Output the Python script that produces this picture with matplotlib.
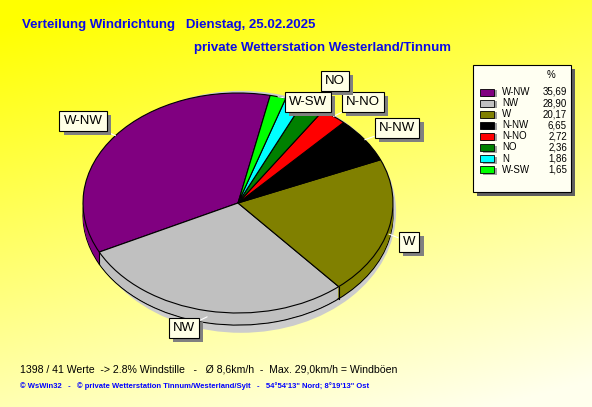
import numpy as np
import matplotlib
matplotlib.use("Agg")
import matplotlib.pyplot as plt
from matplotlib.patches import Rectangle, Ellipse
import matplotlib.patheffects as pe

plt.rcParams["font.family"] = ["Liberation Sans", "DejaVu Sans"]

# -------------------------------
# Daten
# -------------------------------
richtungen = ["W-NW", "NW", "W", "N-NW", "N-NO", "NO", "N", "W-SW"]
prozent = [35.69, 28.90, 20.17, 6.65, 2.72, 2.36, 1.86, 1.65]
farben = ["#800080", "#C0C0C0", "#808000", "#000000",
          "#FF0000", "#008000", "#00FFFF", "#00FF00"]
# Label-Boxen (Pixel im Bild), None = ohne Label
label_pos = [(83, 121), (184, 328), (409, 242), (397, 128),
             (363, 102), (335, 81), None, (308, 102)]

titel1 = "Verteilung Windrichtung   Dienstag, 25.02.2025"
titel2 = "private Wetterstation Westerland/Tinnum"
info = "1398 / 41 Werte  -> 2.8% Windstille   -   Ø 8,6km/h  -  Max. 29,0km/h = Windböen"
fuss = "© WsWin32   -   © private Wetterstation Tinnum/Westerland/Sylt   -   54°54'13\" Nord; 8°19'13\" Ost"

W, H = 592, 407
start = 78
tiefe = 0.11

fig = plt.figure(figsize=(W / 100, H / 100), dpi=100)

# -------------------------------
# Hintergrund (Verlauf gelb -> hell)
# -------------------------------
ax_bg = fig.add_axes([0, 0, 1, 1], zorder=0)
yy, xx = np.mgrid[0:1:200j, 0:1:300j]
t = np.clip(0.8 * yy + 0.3 * xx - 0.05, 0, 1)
img = np.dstack([np.ones_like(t), np.ones_like(t), 0.93 * t])
ax_bg.imshow(img, extent=[0, W, H, 0], aspect="auto")
ax_bg.set_xlim(0, W)
ax_bg.set_ylim(H, 0)
ax_bg.axis("off")

# -------------------------------
# Torte (3D)
# -------------------------------
cx, cy, rx, ry = 238, 203, 155, 110
x0, x1, y0, y1 = cx - 160, cx + 160, 80, 345
ax = fig.add_axes([x0 / W, (H - y1) / H, (x1 - x0) / W, (y1 - y0) / H], zorder=1)

ax.add_patch(Ellipse((0.02, -0.08), 2.0, 2.2, color="#CCCCCC", lw=0))

ax.pie(prozent, colors=farben, startangle=start, radius=1, center=(0, -tiefe),
       wedgeprops=dict(edgecolor="black", linewidth=0.8))
for k in range(1, 12):
    ax.pie(prozent, colors=farben, startangle=start, radius=1,
           center=(0, -tiefe + tiefe * k / 12), wedgeprops=dict(linewidth=0))
wedges, _ = ax.pie(prozent, colors=farben, startangle=start, radius=1, center=(0, 0),
                   wedgeprops=dict(edgecolor="black", linewidth=0.8))

# Kanten an der Seite
grenzen = start + np.cumsum([0] + prozent[:-1]) * 3.6
for g in grenzen:
    a = np.deg2rad(g)
    if np.sin(a) < 0:
        ax.plot([np.cos(a)] * 2, [np.sin(a), np.sin(a) - tiefe], color="black", lw=0.8)

ax.set_aspect("auto")
ax.set_xlim(-(cx - x0) / rx, (x1 - cx) / rx)
ax.set_ylim(-(y1 - cy) / ry, (cy - y0) / ry)
ax.axis("off")

# -------------------------------
# Overlay (Pixel-Koordinaten)
# -------------------------------
ax_o = fig.add_axes([0, 0, 1, 1], zorder=2)
ax_o.set_xlim(0, W)
ax_o.set_ylim(H, 0)
ax_o.axis("off")
ax_o.patch.set_alpha(0)

schatten = [pe.withSimplePatchShadow(offset=(3, -3), shadow_rgbFace="#808080", alpha=1)]
for w, name, pos in zip(wedges, richtungen, label_pos):
    if pos is None:
        continue
    mid = np.deg2rad((w.theta1 + w.theta2) / 2)
    ex, ey = np.cos(mid), np.sin(mid)
    if ey < 0:
        ey -= tiefe / 2
    ax_pos = ax_o.transData.transform(pos)
    xy = ax.transData.inverted().transform(ax_pos)
    ann = ax.annotate(name, xy=(ex, ey), xytext=xy, textcoords="data",
                      ha="center", va="center", fontsize=9.5, zorder=10,
                      bbox=dict(boxstyle="square,pad=0.32", fc="#FFFFE6", ec="black", lw=0.8),
                      arrowprops=dict(arrowstyle="-", color="white", lw=0.8,
                                      shrinkA=0, shrinkB=0),
                      annotation_clip=False)
    ann.get_bbox_patch().set_path_effects(schatten)

# Legende
lx, ly, lw_, lh = 473, 65, 98, 127
ax_o.add_patch(Rectangle((lx + 4, ly + 4), lw_, lh, fc="#606060", ec="none"))
ax_o.add_patch(Rectangle((lx, ly), lw_, lh, fc="#FFFFF2", ec="black", lw=0.8))
ax_o.text(551, 75, "%", fontsize=7, ha="center", va="center")
for i, (name, wert, f) in enumerate(zip(richtungen, prozent, farben)):
    y = 92 + i * 11.1
    ax_o.add_patch(Rectangle((483, y - 2), 14, 7, fc="#A0A0A0", ec="none"))
    ax_o.add_patch(Rectangle((480, y - 3.5), 14, 7, fc=f, ec="black", lw=0.6))
    ax_o.text(502, y, name, fontsize=7, ha="left", va="center")
    ax_o.text(567, y, f"{wert:.2f}".replace(".", ","), fontsize=7, ha="right", va="center")

# Texte
ax_o.text(22, 25, titel1, fontsize=9.5, fontweight="bold", color="#0A0AE6", va="center")
ax_o.text(194, 48, titel2, fontsize=9.5, fontweight="bold", color="#0A0AE6", va="center")
ax_o.text(20, 369, info, fontsize=7.6, color="black", va="center")
ax_o.text(20, 386, fuss, fontsize=5.5, fontweight="bold", color="#0000FF", va="center")

fig.savefig("out.png", dpi=100)
